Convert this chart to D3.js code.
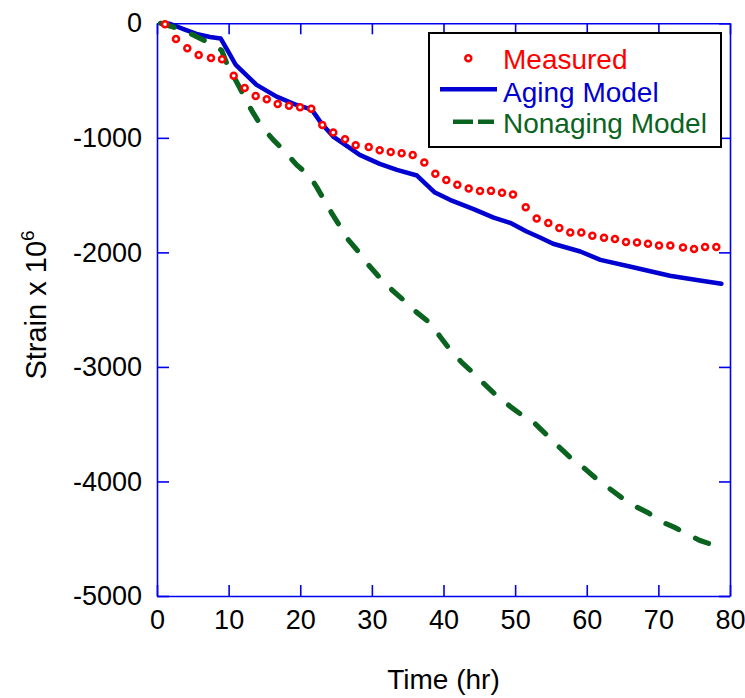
<!DOCTYPE html>
<html><head><meta charset="utf-8">
<script src="https://cdn.jsdelivr.net/npm/d3@7"></script>
<style>body{margin:0;background:#fff}</style>
</head><body>
<svg id="chart" width="745" height="698"></svg>
<script>
const measuredTime = [1.12,2.65,4.23,5.82,7.54,9.08,10.71,12.24,13.78,15.32,16.85,18.43,19.97,21.54,23.08,24.61,26.25,27.74,29.56,31.09,32.63,34.16,35.70,37.32,38.86,40.39,41.93,43.52,45.10,46.63,48.17,49.70,51.48,53.01,54.63,56.17,57.70,59.24,60.78,62.41,63.94,65.48,67.02,68.55,70.09,71.67,73.44,74.98,76.52,78.09];
const measuredStrain = [-9,-137,-218,-276,-303,-314,-457,-564,-634,-663,-704,-719,-733,-747,-887,-954,-1012,-1064,-1079,-1108,-1123,-1134,-1149,-1216,-1314,-1369,-1410,-1443,-1465,-1463,-1480,-1495,-1605,-1704,-1744,-1788,-1826,-1826,-1855,-1873,-1884,-1910,-1914,-1925,-1940,-1940,-1957,-1971,-1954,-1954];
const agingTime = [0.5,1.8,3.7,5.5,7.4,8.9,9.95,11.0,13.9,16.7,19.5,21.4,21.8,23.0,24.6,26.9,28.3,31.1,33.5,36.3,38.8,40.9,44.2,47.0,49.3,51.6,53.4,55.3,59.1,61.9,66.0,71.6,75.8,78.8];
const agingStrain = [0,-4,-50,-93,-120,-133,-248,-364,-538,-640,-713,-750,-771,-878,-989,-1088,-1149,-1227,-1280,-1329,-1478,-1541,-1622,-1696,-1742,-1818,-1868,-1925,-1992,-2065,-2123,-2204,-2245,-2274];
const nonagingTime = [0.5,3.67,5.54,7.4,9.03,9.73,10.6,11.59,12.52,13.45,14.62,16.24,17.87,19.5,21.36,22.3,23.46,24.39,25.55,26.71,28.1,29.5,31.13,32.77,34.62,36.26,38.12,39.51,40.91,42.54,44.16,45.79,47.43,49.29,50.68,52.78,54.63,56.27,57.9,59.76,61.47,63.25,65.1,66.74,68.6,70.23,72.19,73.86,75.71,77.45,78.93];
const nonagingStrain = [0,-58,-117,-174,-237,-349,-451,-567,-684,-785,-902,-1018,-1120,-1236,-1338,-1430,-1556,-1657,-1774,-1890,-1992,-2108,-2224,-2326,-2428,-2524,-2617,-2734,-2850,-2960,-3053,-3155,-3251,-3344,-3408,-3495,-3606,-3707,-3803,-3890,-3983,-4065,-4152,-4216,-4274,-4347,-4399,-4454,-4513,-4550,-4579];
const xTicks = [0,10,20,30,40,50,60,70,80];
const yTicks = [0,-1000,-2000,-3000,-4000,-5000];
const legendLabels = ["Measured","Aging Model","Nonaging Model"];
const xTitle = "Time (hr)";
const yTitle = "Strain x 10";
const yTitleSup = "6";

const FONT = "'Liberation Sans', Arial, Helvetica, sans-serif";
const AXIS_COLOR = "#0000f0";
const RED = "#ff0000", BLUE = "#0000d0", GREEN = "#0a6420";

const svg = d3.select("#chart");
const x = d3.scaleLinear().domain([0, 80]).range([157, 730]);
const y = d3.scaleLinear().domain([-5000, 0]).range([596, 23.3]);

function styleAxis(g) {
  g.selectAll("path.domain").attr("stroke", AXIS_COLOR).attr("stroke-width", 1.6);
  g.selectAll(".tick line").attr("stroke", AXIS_COLOR).attr("stroke-width", 1.6);
  g.selectAll(".tick text").attr("fill", "#000").attr("font-family", FONT).attr("font-size", 27);
}

// bottom
svg.append("g").attr("transform", `translate(0,${y(-5000)})`)
  .call(d3.axisBottom(x).tickValues(xTicks).tickSizeInner(-11).tickSizeOuter(0).tickPadding(14).tickFormat(d => String(d)))
  .call(styleAxis);
// top
svg.append("g").attr("transform", `translate(0,${y(0)})`)
  .call(d3.axisTop(x).tickValues(xTicks).tickSizeInner(-11).tickSizeOuter(0).tickFormat(""))
  .call(styleAxis);
// left
svg.append("g").attr("transform", `translate(${x(0)},0)`)
  .call(d3.axisLeft(y).tickValues(yTicks).tickSizeInner(-12).tickSizeOuter(0).tickPadding(15).tickFormat(d => String(d)))
  .call(styleAxis);
// right
svg.append("g").attr("transform", `translate(${x(80)},0)`)
  .call(d3.axisRight(y).tickValues(yTicks).tickSizeInner(-11).tickSizeOuter(0).tickFormat(""))
  .call(styleAxis);

const line = d3.line().x(d => x(d[0])).y(d => y(d[1]));
const agingData = agingTime.map((t, i) => [t, agingStrain[i]]);
const nonagingData = nonagingTime.map((t, i) => [t, nonagingStrain[i]]);
const measuredData = measuredTime.map((t, i) => [t, measuredStrain[i]]);

svg.append("path").datum(agingData).attr("d", line)
  .attr("fill", "none").attr("stroke", BLUE).attr("stroke-width", 4.5)
  .attr("stroke-linejoin", "round").attr("stroke-linecap", "round");

svg.append("path").datum(nonagingData).attr("d", line)
  .attr("fill", "none").attr("stroke", GREEN).attr("stroke-width", 5.2)
  .attr("stroke-dasharray", "14,19").attr("stroke-linecap", "round").attr("stroke-linejoin", "round");

svg.append("g").selectAll("circle").data(measuredData).join("circle")
  .attr("cx", d => x(d[0])).attr("cy", d => y(d[1])).attr("r", 3)
  .attr("fill", "#fff").attr("stroke", RED).attr("stroke-width", 2.5);

// axis titles
svg.append("text").attr("x", (x(0) + x(80)) / 2).attr("y", 689)
  .attr("text-anchor", "middle").attr("font-family", FONT).attr("font-size", 28).attr("fill", "#000")
  .text(xTitle);

const yt = svg.append("text").attr("transform", `translate(46,305) rotate(-90)`)
  .attr("text-anchor", "middle").attr("font-family", FONT).attr("font-size", 29).attr("fill", "#000");
yt.append("tspan").text(yTitle);
yt.append("tspan").attr("dy", -12).attr("font-size", 19).text(yTitleSup);

// legend
const lg = svg.append("g");
lg.append("rect").attr("x", 429).attr("y", 33).attr("width", 292).attr("height", 114)
  .attr("fill", "#fff").attr("stroke", "#000").attr("stroke-width", 2);
const lgColors = [RED, BLUE, GREEN];
const lgBase = [68.5, 101.5, 133];
const lgMid = [58.3, 89.3, 121.7];
legendLabels.forEach((lab, i) => {
  lg.append("text").attr("x", 503).attr("y", lgBase[i]).attr("font-family", FONT)
    .attr("font-size", 28).attr("fill", lgColors[i]).text(lab);
});
lg.append("circle").attr("cx", 468.3).attr("cy", lgMid[0]).attr("r", 3)
  .attr("fill", "#fff").attr("stroke", RED).attr("stroke-width", 2.5);
lg.append("line").attr("x1", 440).attr("x2", 497).attr("y1", lgMid[1]).attr("y2", lgMid[1])
  .attr("stroke", BLUE).attr("stroke-width", 4.5);
lg.append("line").attr("x1", 453).attr("x2", 494).attr("y1", lgMid[2]).attr("y2", lgMid[2])
  .attr("stroke", GREEN).attr("stroke-width", 4.5).attr("stroke-dasharray", "20,5");
</script>
</body></html>
